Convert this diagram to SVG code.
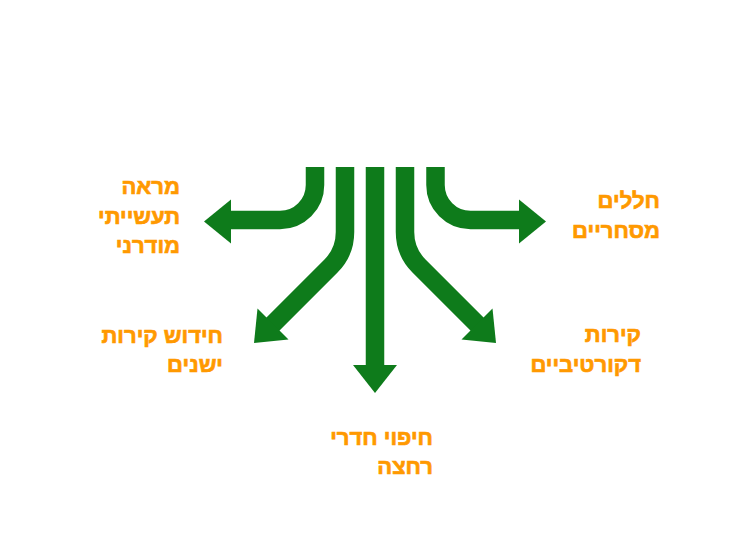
<svg xmlns="http://www.w3.org/2000/svg" width="750" height="540" viewBox="0 0 750 540">
<defs>
<style>
.shaft{fill:none;stroke:#0e7b1b;stroke-width:18.5;stroke-linejoin:round}
.head{fill:#0e7b1b}
.lbl{font-family:"Liberation Sans","DejaVu Sans",sans-serif;font-weight:bold;font-size:22px;fill:#ff9900;stroke:#ff9900;stroke-width:0.7;text-anchor:end}
</style>
</defs>
<rect width="750" height="540" fill="#ffffff"/>
<g id="connectors">
<path class="shaft" d="M315,167 V185 A35,35 0 0 1 280,220 H229"/>
<polygon class="head" points="231,199.5 204,221.5 231,243.5"/>
<path class="shaft" d="M435.5,167 V185 A35,35 0 0 0 470.5,220 H521"/>
<polygon class="head" points="519,199.5 546,221.5 519,243.5"/>
<path class="shaft" d="M345,167 V232 Q345,252 331,266 L268,329"/>
<polygon class="head" points="257.5,308.5 288.5,339.5 254,343"/>
<path class="shaft" d="M405,167 V232 Q405,252 419,266 L482,329"/>
<polygon class="head" points="492.5,308.5 461.5,339.5 496,343"/>
<path class="shaft" d="M375,167 V367"/>
<polygon class="head" points="353,365 397,365 375,393"/>
</g>
<g id="node-industrial">
<text class="lbl" x="180" y="194">מראה</text>
<text class="lbl" x="180" y="223.5">תעשייתי</text>
<text class="lbl" x="180" y="253">מודרני</text>
</g>
<g id="node-commercial">
<text class="lbl" x="660" y="208">חללים</text>
<text class="lbl" x="660" y="238">מסחריים</text>
</g>
<g id="node-renovation">
<text class="lbl" x="223" y="343">חידוש קירות</text>
<text class="lbl" x="223" y="372">ישנים</text>
</g>
<g id="node-decorative">
<text class="lbl" x="641" y="342">קירות</text>
<text class="lbl" x="641" y="372">דקורטיביים</text>
</g>
<g id="node-bathroom">
<text class="lbl" x="433" y="445">חיפוי חדרי</text>
<text class="lbl" x="433" y="474">רחצה</text>
</g>
</svg>
